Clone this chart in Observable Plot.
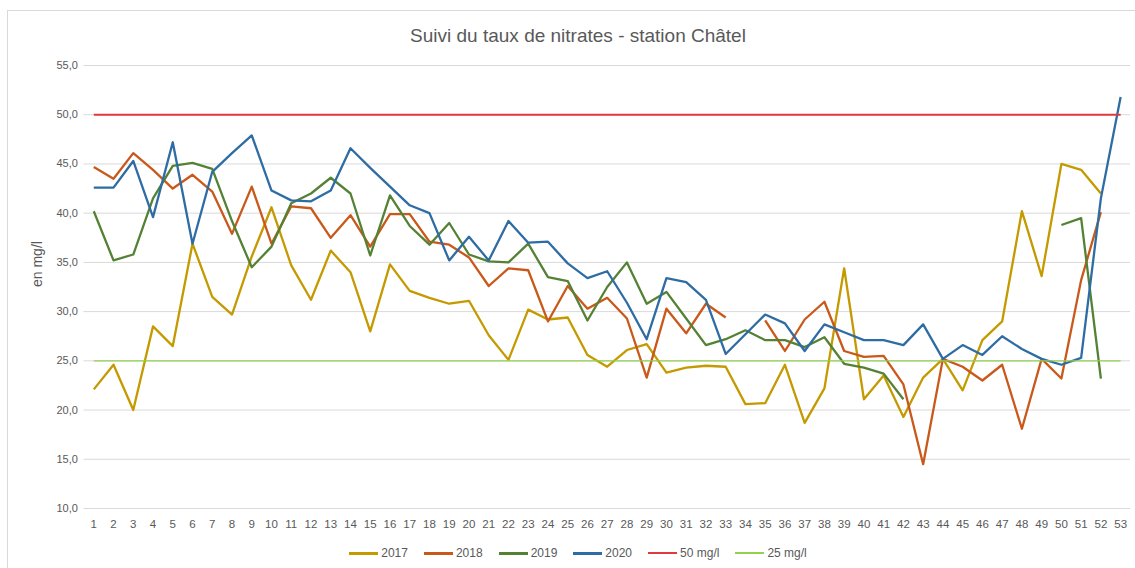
<!DOCTYPE html>
<html>
<head>
<meta charset="utf-8">
<script src="https://cdn.jsdelivr.net/npm/d3@7"></script>
<script src="https://cdn.jsdelivr.net/npm/@observablehq/plot@0.6"></script>
<style>
  html, body { margin: 0; padding: 0; overflow: hidden; background: #fff; width: 1135px; height: 568px; }
  #frame { position: absolute; left: 7px; top: 10px; width: 1140px; height: 580px; border: 1px solid #d9d9d9; font-family: "Liberation Sans", Arial, sans-serif; color: #595959; }
  #title { padding-top: 14px; height: 22px; line-height: 22px; font-size: 19px; text-align: center; color: #595959; }
  #chart svg { display: block; }
  #legend { display: flex; justify-content: center; gap: 16px; padding-top: 5px; line-height: 16px; font-size: 12px; color: #595959; }
  .item { display: flex; align-items: center; }
  .sw { display: inline-block; width: 29px; margin-right: 3px; }
</style>
</head>
<body>
<div id="frame">
  <div id="title">Suivi du taux de nitrates - station Châtel</div>
  <div id="chart"></div>
  <div id="legend"></div>
</div>
<script>
const weeks = [1,2,3,4,5,6,7,8,9,10,11,12,13,14,15,16,17,18,19,20,21,22,23,24,25,26,27,28,29,30,31,32,33,34,35,36,37,38,39,40,41,42,43,44,45,46,47,48,49,50,51,52,53];
const yTicks = [10,15,20,25,30,35,40,45,50,55];

const v2017 = [22.1,24.6,20.0,28.5,26.5,36.9,31.5,29.7,35.6,40.6,34.7,31.2,36.2,34.0,28.0,34.8,32.1,31.4,30.8,31.1,27.6,25.1,30.2,29.2,29.4,25.6,24.4,26.1,26.7,23.8,24.3,24.5,24.4,20.6,20.7,24.6,18.7,22.2,34.4,21.1,23.5,19.3,23.3,25.2,22.0,27.1,29.0,40.2,33.6,45.0,44.4,42.0,null];
const v2018 = [44.7,43.5,46.1,44.4,42.5,43.9,42.2,37.9,42.7,36.9,40.7,40.5,37.5,39.8,36.6,39.9,39.9,37.1,36.8,35.5,32.6,34.4,34.2,29.0,32.6,30.3,31.4,29.3,23.3,30.3,27.8,30.8,29.4,null,29.1,26.0,29.2,31.0,26.0,25.4,25.5,22.6,14.5,25.2,24.4,23.0,24.6,18.1,25.2,23.2,33.2,40.1,null];
const v2019 = [40.2,35.2,35.8,41.5,44.8,45.1,44.5,39.2,34.5,36.6,41.0,42.0,43.6,42.0,35.7,41.8,38.7,36.8,39.0,35.8,35.1,35.0,36.9,33.5,33.1,29.1,32.5,35.0,30.8,32.0,29.3,26.6,27.2,28.1,27.1,27.1,26.4,27.4,24.7,24.3,23.7,21.1,null,null,null,null,null,null,null,38.8,39.5,23.2,null];
const v2020 = [42.6,42.6,45.3,39.6,47.2,36.9,44.2,46.1,47.9,42.3,41.3,41.2,42.3,46.6,44.6,42.7,40.8,40.0,35.2,37.6,35.2,39.2,37.0,37.1,34.9,33.4,34.1,30.9,27.2,33.4,33.0,31.2,25.7,27.7,29.7,28.8,26.0,28.7,27.9,27.1,27.1,26.6,28.7,25.2,26.6,25.6,27.5,26.2,25.2,24.6,25.3,41.5,51.8];
const limit50 = [50,50,50,50,50,50,50,50,50,50,50,50,50,50,50,50,50,50,50,50,50,50,50,50,50,50,50,50,50,50,50,50,50,50,50,50,50,50,50,50,50,50,50,50,50,50,50,50,50,50,50,50,50];
const limit25 = [25,25,25,25,25,25,25,25,25,25,25,25,25,25,25,25,25,25,25,25,25,25,25,25,25,25,25,25,25,25,25,25,25,25,25,25,25,25,25,25,25,25,25,25,25,25,25,25,25,25,25,25,25];

const seriesNames = ["2017", "2018", "2019", "2020", "50 mg/l", "25 mg/l"];
const seriesValues = [v2017, v2018, v2019, v2020, limit50, limit25];
const seriesColors = ["#C49A00", "#C9591A", "#548235", "#2E6CA4", "#E0393E", "#92D050"];
const seriesWidths = [2.3, 2.3, 2.3, 2.3, 2, 1.4];

const fmt = d => d.toFixed(1).replace(".", ",");

const marks = [
  Plot.gridY(yTicks, {stroke: "#d9d9d9", strokeOpacity: 1, strokeWidth: 1}),
  Plot.axisY({ticks: yTicks, tickSize: 0, tickPadding: 6, tickFormat: fmt, label: null, fontSize: 11}),
  Plot.axisX({ticks: weeks, tickSize: 0, tickPadding: 11, tickFormat: d => String(d), label: null, fontSize: 11.5}),
  Plot.text(["en mg/l"], {frameAnchor: "left", text: d => d, rotate: -90, dx: -46, fontSize: 14, fill: "#595959"})
];
seriesNames.forEach((name, i) => {
  const rows = weeks.map((w, j) => ({week: w, value: seriesValues[i][j], series: name}));
  marks.push(Plot.line(rows, {x: "week", y: "value", stroke: seriesColors[i], strokeWidth: seriesWidths[i], strokeLinejoin: "round", strokeLinecap: "butt"}));
});

const chart = Plot.plot({
  width: 1127,
  height: 493,
  marginLeft: 75.4,
  marginRight: 5,
  marginTop: 18,
  marginBottom: 32,
  style: {fontFamily: "Liberation Sans, Arial, sans-serif", fontSize: "11px", color: "#595959", background: "transparent"},
  x: {type: "linear", domain: [0.5, 53.5]},
  y: {domain: [10, 55]},
  marks
});
document.getElementById("chart").appendChild(chart);

const legend = document.getElementById("legend");
seriesNames.forEach((name, i) => {
  const item = document.createElement("div");
  item.className = "item";
  const sw = document.createElement("span");
  sw.className = "sw";
  sw.style.height = (i < 4 ? 3 : 2) + "px";
  sw.style.background = seriesColors[i];
  const t = document.createElement("span");
  t.textContent = name;
  item.appendChild(sw);
  item.appendChild(t);
  legend.appendChild(item);
});
</script>
</body>
</html>
